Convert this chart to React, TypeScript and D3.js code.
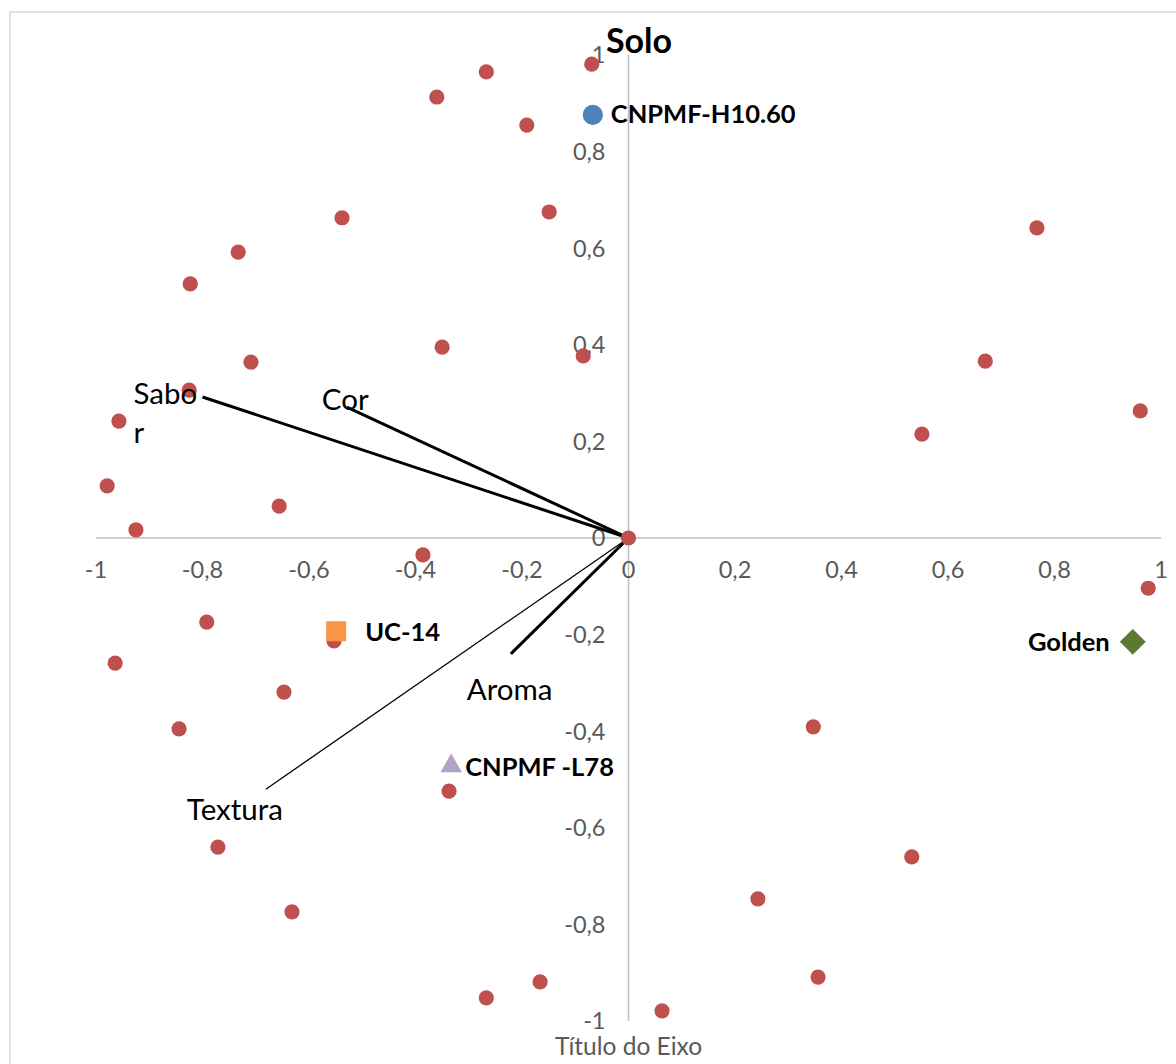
import React from "react";
import * as d3 from "d3";

// ---- data ----
const scoreX = [-0.069, -0.267, -0.360, -0.191, -0.538, -0.149, -0.733, -0.823, -0.709, -0.350, -0.085, -0.825, -0.957, -0.979, -0.925, -0.656, -0.386, 0.0, 0.767, 0.670, 0.551, 0.961, 0.976, -0.792, -0.553, -0.964, -0.647, -0.844, 0.347, -0.337, -0.771, 0.532, 0.243, -0.632, 0.356, -0.166, -0.267, 0.063];
const scoreY = [0.981, 0.965, 0.913, 0.855, 0.663, 0.675, 0.592, 0.526, 0.364, 0.395, 0.377, 0.306, 0.242, 0.108, 0.017, 0.066, -0.035, 0.0, 0.642, 0.366, 0.215, 0.263, -0.104, -0.174, -0.213, -0.259, -0.319, -0.395, -0.391, -0.524, -0.640, -0.660, -0.747, -0.774, -0.909, -0.919, -0.952, -0.979];

const vectorNames = ["Sabor", "Cor", "Aroma", "Textura"];
const vectorX = [-0.800, -0.529, -0.221, -0.681];
const vectorY = [0.292, 0.271, -0.240, -0.520];

const varietyNames = ["CNPMF-H10.60", "UC-14", "CNPMF -L78", "Golden"];
const varietyX = [-0.067, -0.549, -0.333, 0.947];
const varietyY = [0.876, -0.193, -0.472, -0.215];

const xTicks = [-1, -0.8, -0.6, -0.4, -0.2, 0, 0.2, 0.4, 0.6, 0.8, 1];
const yTicks = [1, 0.8, 0.6, 0.4, 0.2, 0, -0.2, -0.4, -0.6, -0.8, -1];

const chartTitle = "Solo";
const axisTitle = "Título do Eixo";

// ---- style / layout ----
const W = 1176;
const H = 1064;
const FONT = "Lato, 'Open Sans', sans-serif";
const varietyStyle = [
  { shape: "circle", color: "#4F81BD" },
  { shape: "square", color: "#F79646" },
  { shape: "triangle", color: "#B3A2C7" },
  { shape: "diamond", color: "#5E7833" },
];
const varietyLabelOffset = [
  { dx: 18, dy: 8, anchor: "start" },
  { dx: 29, dy: 10, anchor: "start" },
  { dx: 14, dy: 10, anchor: "start" },
  { dx: -23, dy: 9, anchor: "end" },
];
const vectorLabelOffset = [
  { dx: -69, dy: 7, lines: ["Sabo", "r"] },
  { dx: -25, dy: 3, lines: ["Cor"] },
  { dx: -44, dy: 46, lines: ["Aroma"] },
  { dx: -79, dy: 31, lines: ["Textura"] },
];
const vectorWidth = [3, 3, 3, 1.3];

const fmt = (v: number) => String(v).replace(".", ",");

export default function App() {
  const x = d3.scaleLinear().domain([-1, 1]).range([96, 1161]);
  const y = d3.scaleLinear().domain([-1, 1]).range([1021, 55]);

  const sym = (shape: string) => {
    const t =
      shape === "square" || shape === "diamond" ? d3.symbolSquare :
      shape === "triangle" ? d3.symbolTriangle : d3.symbolCircle;
    const size =
      shape === "square" ? 400 :
      shape === "triangle" ? 200 :
      shape === "diamond" ? 335 : 320;
    return d3.symbol().type(t).size(size)() as string;
  };

  return (
    <svg
      width={W}
      height={H}
      style={{ position: "absolute", left: 0, top: 0, background: "#fff" }}
      fontFamily={FONT}
    >
      <rect x={10} y={12} width={W + 20} height={H + 20} fill="#fff" stroke="#D9D9D9" strokeWidth={1.5} />

      {/* axes */}
      <line x1={x(-1)} x2={x(1)} y1={y(0)} y2={y(0)} stroke="#BFBFBF" strokeWidth={1.5} />
      <line x1={x(0)} x2={x(0)} y1={y(1)} y2={y(-1)} stroke="#BFBFBF" strokeWidth={1.5} />

      {xTicks.map((t) => (
        <text key={"xt" + t} x={x(t)} y={y(0) + 40} textAnchor="middle" fontSize={23.5} fill="#595959">
          {fmt(t)}
        </text>
      ))}
      {yTicks.map((t) => (
        <text key={"yt" + t} x={x(0) - 23} y={y(t)} dy="0.36em" textAnchor="end" fontSize={23.5} fill="#595959">
          {fmt(t)}
        </text>
      ))}

      {/* vectors */}
      {vectorNames.map((n, i) => (
        <line key={"v" + n} x1={x(0)} y1={y(0)} x2={x(vectorX[i])} y2={y(vectorY[i])} stroke="#000" strokeWidth={vectorWidth[i]} />
      ))}

      {/* scores */}
      {scoreX.map((sx, i) => (
        <circle key={"p" + i} cx={x(sx)} cy={y(scoreY[i])} r={7.6} fill="#C0504D" />
      ))}

      {/* varieties */}
      {varietyNames.map((n, i) => (
        <path
          key={"m" + n}
          d={sym(varietyStyle[i].shape)}
          transform={`translate(${x(varietyX[i])},${y(varietyY[i])})${varietyStyle[i].shape === "diamond" ? " rotate(45)" : ""}`}
          fill={varietyStyle[i].color}
        />
      ))}
      {varietyNames.map((n, i) => (
        <text
          key={"ml" + n}
          x={x(varietyX[i]) + varietyLabelOffset[i].dx}
          y={y(varietyY[i]) + varietyLabelOffset[i].dy}
          textAnchor={varietyLabelOffset[i].anchor}
          fontSize={25.5}
          fontWeight="bold"
          fill="#000"
        >
          {n}
        </text>
      ))}

      {/* vector labels */}
      {vectorNames.map((n, i) => (
        <text
          key={"vl" + n}
          x={x(vectorX[i]) + vectorLabelOffset[i].dx}
          y={y(vectorY[i]) + vectorLabelOffset[i].dy}
          fontSize={29.5}
          fill="#000"
        >
          {vectorLabelOffset[i].lines.map((l, j) => (
            <tspan key={j} x={x(vectorX[i]) + vectorLabelOffset[i].dx} dy={j === 0 ? 0 : 39}>
              {l}
            </tspan>
          ))}
        </text>
      ))}

      {/* titles */}
      <text x={639} y={53} textAnchor="middle" fontSize={34} fontWeight="bold" fill="#000">
        {chartTitle}
      </text>
      <text x={x(0)} y={1055} textAnchor="middle" fontSize={24.5} fill="#595959">
        {axisTitle}
      </text>
    </svg>
  );
}
